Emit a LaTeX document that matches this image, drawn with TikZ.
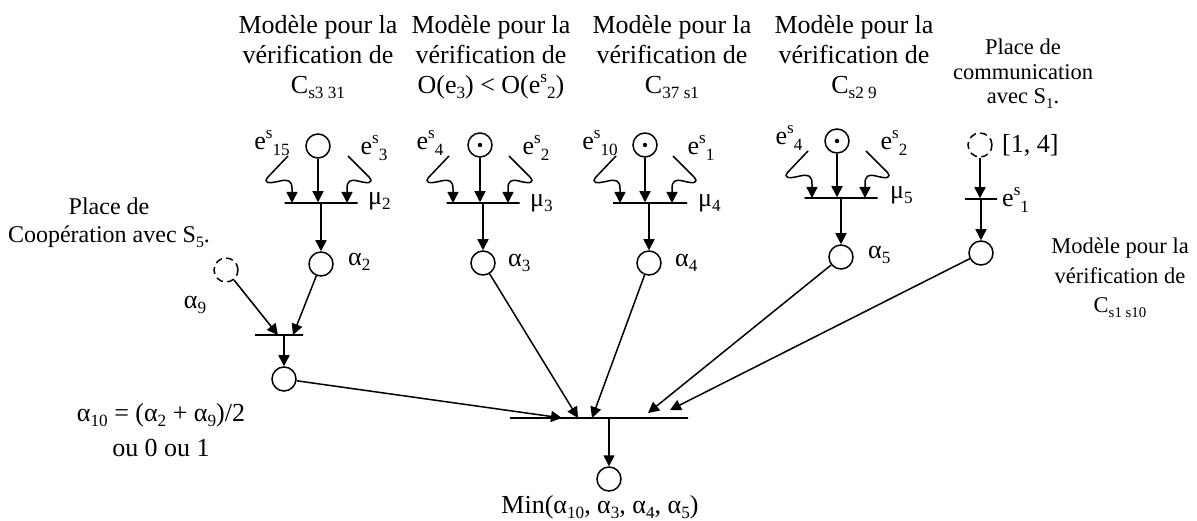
\documentclass[tikz,border=0pt]{standalone}
\usepackage{fontspec}
\setmainfont{Liberation Serif}
\usetikzlibrary{arrows.meta,calc}
\newcommand\spx[1]{\raisebox{0.42em}{\scalebox{0.66}{#1}}}
\newcommand\sbx[1]{\raisebox{-0.2em}{\scalebox{0.66}{#1}}}
\newcommand\larcx[3]{%
  \coordinate (#1) at ($(#2.center)+(#3-4,-47)$);
  \draw[arr] (#1) -- ($(#2.center)+(#3-24,-26)$)
    .. controls ($(#2.center)+(#3-29,-20)$) and ($(#2.center)+(#3-24,-19)$) .. ($(#2.center)+(#3-12,-22)$)
    .. controls ($(#2.center)+(#3-3,-24)$) and ($(#2.center)+(#3,-22)$) .. ($(#2.center)+(#3,-14)$)
    -- ($(#2.center)+(#3,0)$);}
\newcommand\rarcx[3]{%
  \coordinate (#1) at ($(#2.center)+(#3+1,-47)$);
  \draw[arr] (#1) -- ($(#2.center)+(#3+22,-26)$)
    .. controls ($(#2.center)+(#3+27,-20)$) and ($(#2.center)+(#3+22,-19)$) .. ($(#2.center)+(#3+11,-22)$)
    .. controls ($(#2.center)+(#3+3,-24)$) and ($(#2.center)+(#3,-22)$) .. ($(#2.center)+(#3,-14)$)
    -- ($(#2.center)+(#3,0)$);}
\begin{document}
\begin{tikzpicture}[x=1pt,y=-1pt,
  place/.style={circle,draw,line width=1.5pt,minimum size=24pt,inner sep=0pt},
  dplace/.style={place,dash pattern=on 7pt off 4.5pt},
  tok/.style={place,path picture={\fill (path picture bounding box.center) circle (2.2pt);}},
  bar/.style={rectangle,draw,line width=1.5pt,minimum height=0pt,inner sep=0pt},
  arr/.style={line width=1.5pt,-{Triangle[length=11pt,width=11pt]}},
  lbl/.style={font=\fontsize{26}{30}\selectfont,inner sep=0pt},
  ttl/.style={lbl,align=center,anchor=north},
  ]
\useasboundingbox (0,0) rectangle (1197,521);

% ---- titles
\node[ttl] (h1) at (318,15) {Modèle pour la\\vérification de\\C\sbx{s3 31}};
\node[ttl] (h2) at (491,15) {Modèle pour la\\vérification de\\O(e\sbx{3}) < O(e\spx{s}\sbx{2})};
\node[ttl] (h3) at (672,15) {Modèle pour la\\vérification de\\C\sbx{37 s1}};
\node[ttl] (h4) at (854,15) {Modèle pour la\\vérification de\\C\sbx{s2 9}};
\node[ttl,font=\fontsize{22.5}{24.5}\selectfont] (h5) at (1023,39) {Place de\\communication\\avec S\sbx{1}.};
\node[ttl,font=\fontsize{24}{28}\selectfont] (h6) at (109,198) {Place de\\Coopération avec S\sbx{5}.};
\node[ttl,font=\fontsize{22.5}{29.5}\selectfont] (h7) at (1120,238) {Modèle pour la\\vérification de\\C\sbx{s1 s10}};

% ---- block 1
\node[place] (p1) at (318,146) {};
\node[bar,minimum width=73pt] (t1) at (321,203) {};
\node[place] (a2) at (321,264) {};
\draw[arr] (p1) -- (p1 |- t1.north);
\larcx{s1l}{t1}{-29}
\rarcx{s1r}{t1}{26}
\draw[arr] (t1.south -| a2) -- (a2);
\node[lbl] (e15) at (272,143) {e\spx{s}\sbx{15}};
\node[lbl] (e3a) at (374,148) {e\spx{s}\sbx{3}};
\node[lbl,anchor=west] (mu2) at (368,201) {μ\sbx{2}};
\node[lbl,anchor=west] (la2) at (348,262) {α\sbx{2}};

% ---- block 2
\node[tok] (p2) at (480,145) {};
\node[bar,minimum width=73pt] (t2) at (483,203) {};
\node[place] (a3) at (483,263) {};
\draw[arr] (p2) -- (p2 |- t2.north);
\larcx{s2l}{t2}{-30}
\rarcx{s2r}{t2}{25}
\draw[arr] (t2.south -| a3) -- (a3);
\node[lbl] (e4a) at (430,143) {e\spx{s}\sbx{4}};
\node[lbl] (e2a) at (536,148) {e\spx{s}\sbx{2}};
\node[lbl,anchor=west] (mu3) at (530,203) {μ\sbx{3}};
\node[lbl,anchor=west] (la3) at (508,263) {α\sbx{3}};

% ---- block 3
\node[tok] (p3) at (645,145) {};
\node[bar,minimum width=74pt] (t3) at (650,203) {};
\node[place] (a4) at (649,263) {};
\draw[arr] (p3) -- (p3 |- t3.north);
\larcx{s3l}{t3}{-30}
\rarcx{s3r}{t3}{22}
\draw[arr] (t3.south -| a4) -- (a4);
\node[lbl] (e10) at (600,143) {e\spx{s}\sbx{10}};
\node[lbl] (e1a) at (701,148) {e\spx{s}\sbx{1}};
\node[lbl,anchor=west] (mu4) at (698,203) {μ\sbx{4}};
\node[lbl,anchor=west] (la4) at (675,263) {α\sbx{4}};

% ---- block 4
\node[tok] (p4) at (837,141) {};
\node[bar,minimum width=73pt] (t4) at (841,198) {};
\node[place] (a5) at (841,257) {};
\draw[arr] (p4) -- (p4 |- t4.north);
\larcx{s4l}{t4}{-29}
\rarcx{s4r}{t4}{24}
\draw[arr] (t4.south -| a5) -- (a5);
\node[lbl] (e4b) at (789,138) {e\spx{s}\sbx{4}};
\node[lbl] (e2b) at (894,143) {e\spx{s}\sbx{2}};
\node[lbl,anchor=west] (mu5) at (890,195) {μ\sbx{5}};
\node[lbl,anchor=west] (la5) at (868,255) {α\sbx{5}};

% ---- block 5
\node[dplace] (p5) at (980,145) {};
\node[bar,minimum width=32pt] (t5) at (981,199) {};
\node[place] (a6) at (981,253) {};
\draw[arr] (p5) -- (p5 |- t5.north);
\draw[arr] (t5.south -| a6) -- (a6);
\node[lbl,anchor=west] (int) at (1002,145) {[1, 4]};
\node[lbl,anchor=west] (e1b) at (1002,200) {e\spx{s}\sbx{1}};

% ---- left cooperation
\node[dplace] (p9) at (226,270) {};
\node[lbl] (la9) at (195,305) {α\sbx{9}};
\node[bar,minimum width=48pt] (t6) at (279,335) {};
\node[place] (a10) at (284,379) {};
\draw[arr] (p9) -- ($(t6.center)+(-1,0)$);
\draw[arr] (a2) -- ($(t6.center)+(14,0)$);
\draw[arr] (t6.south -| a10) -- (a10);
\node[lbl,align=center,font=\fontsize{26}{35}\selectfont] (la10) at (161,430) {α\sbx{10} = (α\sbx{2} + α\sbx{9})/2\\ou 0 ou 1};

% ---- main transition
\node[bar,minimum width=178pt] (t7) at (599,418) {};
\node[place] (pf) at (609,479) {};
\draw[arr] (a10) -- ($(t7.center)+(-37,0)$);
\draw[arr] (a3) -- ($(t7.center)+(-21,0)$);
\draw[arr] (a4) -- ($(t7.center)+(-7,0)$);
\draw[arr] (a5) -- ($(t7.center)+(49,-5)$);
\draw[arr] (a6) -- ($(t7.center)+(71,-8)$);
\draw[arr] (t7.south -| pf) -- (pf);
\node[lbl] (lmin) at (600,507) {Min(α\sbx{10}, α\sbx{3}, α\sbx{4}, α\sbx{5})};
\end{tikzpicture}
\end{document}
